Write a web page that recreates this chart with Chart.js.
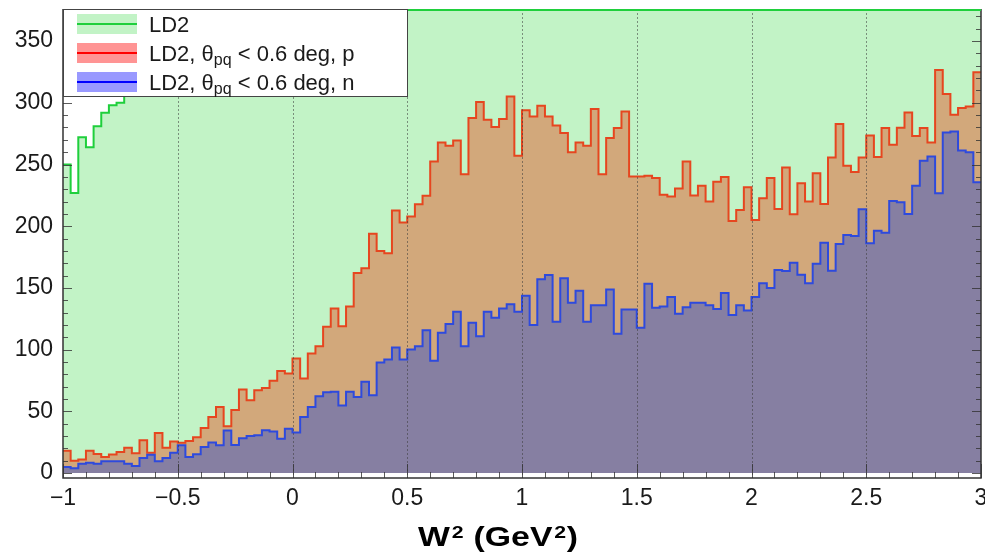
<!DOCTYPE html>
<html>
<head>
<meta charset="utf-8">
<title>W2 distribution, LD2</title>
<script src="https://cdn.jsdelivr.net/npm/chart.js@4.4.1/dist/chart.umd.min.js"></script>
<style>
  html, body { margin: 0; padding: 0; background: #fff; }
  #wrap { position: relative; width: 985px; height: 556px; }
</style>
</head>
<body>
<div id="wrap"><canvas id="w2Chart"></canvas></div>
<script>
// Binning of the W^2 axis (GeV^2)
const xMin = -1;
const xMax = 3;
const xMajorStep = 0.5;

// Visible y range of the frame and its labelled values
const yMin = -4;
const yMax = 376;
const yMajorStep = 50;
const yTickValues = [0, 50, 100, 150, 200, 250, 300, 350];

// Bin contents, 120 bins from -1 to 3
// LD2 total: only the first bins are below the top of the frame
const ld2Counts = [
  250, 227, 272, 264, 281, 292, 298, 300, 318, 336,
  349, 361, 377, 392, 404, 419, 433, 445, 458, 474,
  486, 497, 512, 526, 537, 549, 563, 574, 586, 598,
  611, 623, 634, 642, 655, 664, 673, 685, 691, 702,
  709, 718, 724, 731, 737, 741, 748, 752, 757, 761,
  763, 768, 770, 771, 774, 776, 775, 778, 777, 779,
  778, 776, 777, 775, 772, 773, 770, 768, 767, 765,
  762, 761, 760, 758, 757, 755, 756, 754, 753, 755,
  754, 756, 757, 759, 760, 763, 765, 768, 771, 774,
  778, 781, 785, 790, 794, 799, 803, 809, 814, 819,
  825, 831, 838, 843, 850, 856, 863, 869, 877, 884,
  890, 897, 905, 911, 918, 926, 933, 940, 948, 955
];

// LD2, theta_pq < 0.6 deg, proton
const protonCounts = [
  18, 10, 11, 18, 15.5, 13, 15, 17, 20.5, 16,
  26.5, 16.5, 32.5, 20.5, 25.5, 24.5, 26, 29, 36.5, 45.5,
  53.6, 38, 51, 67.8, 59, 67, 69, 74.7, 82.6, 80.7,
  92.8, 76.6, 96.9, 102.8, 118.5, 133.4, 119, 135, 162, 166,
  194, 180, 178, 212.7, 203, 207.8, 217.9, 224.6, 252.4, 267.9,
  265.2, 269.5, 242.2, 287.6, 300.6, 286.3, 280.4, 286.8, 305.2, 257,
  294, 289, 297.6, 289, 281.7, 275.5, 260, 267.9, 265.2, 295,
  242.2, 271.4, 279.5, 293, 240.3, 240.3, 240.8, 239, 225.4, 224,
  230.5, 252.4, 224.8, 232.7, 220, 236, 239.8, 204.3, 213.2, 231.6,
  205.1, 222.7, 239, 214, 247.6, 209.7, 234.9, 220, 243, 218,
  255.7, 282.8, 248.9, 244, 255.7, 273.5, 256, 279.5, 266, 279.8,
  292.2, 273, 279.5, 267.9, 326.6, 307.1, 290.3, 295.8, 297.1, 324.7
];

// LD2, theta_pq < 0.6 deg, neutron
const neutronCounts = [
  5, 4, 7.6, 8.4, 7.6, 9.5, 9.5, 9.5, 7.6, 5.7,
  12.2, 14.9, 9.5, 12.2, 16.5, 22.5, 13, 15.2, 21.1, 24.7,
  22.5, 34.4, 22.8, 28.2, 30, 30.6, 34.7, 33.7, 27.9, 36,
  32.8, 45.5, 53.6, 62.3, 65.5, 65.8, 54.7, 65.8, 61.7, 73.9,
  63, 89.6, 92, 101.8, 92, 100.2, 102.8, 115.8, 90.9, 113.6,
  120.7, 130.7, 102.8, 121.8, 110.9, 130.7, 125.8, 133.4, 136.7, 130.7,
  143.6, 119.9, 157, 160.5, 122.6, 157.8, 138, 147.7, 122.6, 135.9,
  135.9, 148.8, 112.8, 132.6, 132.6, 117.7, 153.4, 133.9, 135, 142.7,
  129.1, 134.3, 138, 138, 135.9, 132.9, 145.8, 128, 135.9, 131.8,
  142.6, 153.7, 149.9, 164.5, 163.7, 170.5, 160.7, 153.7, 169.6, 186.7,
  164, 185.6, 192.9, 192.1, 213.8, 186.2, 196.4, 194.8, 220.5, 219.5,
  210, 232.7, 253, 256.5, 226.8, 276, 276.8, 261.4, 260, 235.7
];

// Legend texts: main part, subscript, tail
const legendMain = ['LD2', 'LD2, \u03b8', 'LD2, \u03b8'];
const legendSub = ['', 'pq', 'pq'];
const legendTail = ['', ' < 0.6 deg, p', ' < 0.6 deg, n'];

// Colours
const ld2Line = '#1fcf3c';
const ld2Fill = '#c2f3c6';
const protonLine = '#e6461f';
const protonFill = '#d2a87b';
const neutronLine = '#2e4add';
const neutronFill = '#867fa2';

const FONT = "'Liberation Sans', Arial, Helvetica, sans-serif";
Chart.defaults.font.family = FONT;
Chart.defaults.color = '#1a1a1a';

/**
 * Turns bin contents into the corner points of a step outline
 */
function histPoints(counts) {
  const w = (xMax - xMin) / counts.length;
  const pts = [];
  counts.forEach((c, i) => {
    const lo = xMin + i * w;
    pts.push({ x: lo, y: c }, { x: lo + w, y: c });
  });
  return pts;
}

// ROOT style frame: inner ticks, x grid, legend box and axis title
const rootFrame = {
  id: 'rootFrame',
  afterDatasetsDraw(chart) {
    const { ctx, chartArea: a, scales: { x, y } } = chart;
    ctx.save();

    // vertical grid at the labelled x values
    ctx.strokeStyle = 'rgba(60, 60, 60, 0.55)';
    ctx.lineWidth = 1;
    ctx.setLineDash([2, 2]);
    const nMajor = Math.round((xMax - xMin) / xMajorStep);
    for (let k = 1; k < nMajor; k++) {
      const px = Math.round(x.getPixelForValue(xMin + k * xMajorStep)) + 0.5;
      ctx.beginPath();
      ctx.moveTo(px, a.top);
      ctx.lineTo(px, a.bottom);
      ctx.stroke();
    }
    ctx.setLineDash([]);

    // x ticks (major every 0.5, minor every 0.1)
    ctx.strokeStyle = 'rgba(50, 50, 50, 0.8)';
    const nMinor = Math.round((xMax - xMin) / 0.1);
    for (let k = 0; k <= nMinor; k++) {
      const px = Math.round(x.getPixelForValue(xMin + k * 0.1)) + 0.5;
      const len = k % 5 === 0 ? 14 : 6;
      ctx.beginPath();
      ctx.moveTo(px, a.bottom);
      ctx.lineTo(px, a.bottom - len);
      ctx.stroke();
    }

    // y ticks on both sides (major every 50, minor every 10)
    for (let v = 0; v <= yMax; v += 10) {
      const py = Math.round(y.getPixelForValue(v)) + 0.5;
      const len = v % yMajorStep === 0 ? 9 : 5;
      ctx.beginPath();
      ctx.moveTo(a.left, py);
      ctx.lineTo(a.left + len, py);
      ctx.moveTo(a.right, py);
      ctx.lineTo(a.right - len, py);
      ctx.stroke();
    }

    // frame
    ctx.strokeStyle = '#333';
    ctx.lineWidth = 1.5;
    ctx.beginPath();
    ctx.moveTo(a.left, a.top);
    ctx.lineTo(a.left, a.bottom);
    ctx.lineTo(a.right, a.bottom);
    ctx.lineTo(a.right, a.top);
    ctx.stroke();
    // LD2 runs over the top of the frame
    ctx.strokeStyle = ld2Line;
    ctx.lineWidth = 2;
    ctx.beginPath();
    ctx.moveTo(a.left, a.top + 1);
    ctx.lineTo(a.right, a.top + 1);
    ctx.stroke();

    ctx.restore();
  },
  afterDraw(chart) {
    const { ctx, chartArea: a } = chart;
    ctx.save();

    // legend box
    const box = { x: a.left + 0.5, y: a.top + 0.5, w: 344, h: 87 };
    ctx.fillStyle = '#fff';
    ctx.fillRect(box.x, box.y, box.w, box.h);
    ctx.strokeStyle = '#444';
    ctx.lineWidth = 1;
    ctx.strokeRect(box.x, box.y, box.w, box.h);

    const swFill = [ld2Fill, 'rgba(255, 0, 0, 0.42)', 'rgba(0, 0, 255, 0.4)'];
    const swLine = [ld2Line, '#ff0000', '#0000ff'];
    const rowY = [24, 53, 82];
    legendMain.forEach((txt, i) => {
      const cy = rowY[i];
      ctx.fillStyle = swFill[i];
      ctx.fillRect(77, cy - 10, 60, 20);
      ctx.strokeStyle = swLine[i];
      ctx.lineWidth = 2;
      ctx.beginPath();
      ctx.moveTo(77, cy);
      ctx.lineTo(137, cy);
      ctx.stroke();

      const base = cy + 7.5;
      let tx = 149;
      ctx.fillStyle = '#1a1a1a';
      ctx.textBaseline = 'alphabetic';
      ctx.textAlign = 'left';
      ctx.font = '22px ' + FONT;
      ctx.fillText(txt, tx, base);
      tx += ctx.measureText(txt).width;
      if (legendSub[i]) {
        ctx.font = '16px ' + FONT;
        ctx.fillText(legendSub[i], tx, base + 4);
        tx += ctx.measureText(legendSub[i]).width;
        ctx.font = '22px ' + FONT;
        ctx.fillText(legendTail[i], tx, base);
      }
    });

    // x axis title W^2 (GeV^2)
    const parts = [
      { t: 'W', sup: false }, { t: '2', sup: true },
      { t: ' (GeV', sup: false }, { t: '2', sup: true }, { t: ')', sup: false }
    ];
    const bigFont = 'bold 27px ' + FONT;
    const supFont = 'bold 17px ' + FONT;
    let total = 0;
    parts.forEach(p => {
      ctx.font = p.sup ? supFont : bigFont;
      p.w = ctx.measureText(p.t).width + (p.sup ? 2 : 0);
      total += p.w;
    });
    const targetW = 160;
    const sx = targetW / total;
    ctx.translate(498 - targetW / 2, 546);
    ctx.scale(sx, 1);
    ctx.fillStyle = '#000';
    let cx = 0;
    parts.forEach(p => {
      ctx.font = p.sup ? supFont : bigFont;
      ctx.fillText(p.t, cx + (p.sup ? 1.5 : 0), p.sup ? -8.5 : 0);
      cx += p.w;
    });

    ctx.restore();
  }
};

const ctx = document.getElementById('w2Chart').getContext('2d');

const w2Chart = new Chart(ctx, {
  type: 'line',
  data: {
    datasets: [
      {
        label: 'LD2',
        data: histPoints(ld2Counts),
        borderColor: ld2Line,
        backgroundColor: ld2Fill,
        fill: 'origin',
        order: 3
      },
      {
        label: 'LD2, theta_pq < 0.6 deg, p',
        data: histPoints(protonCounts),
        borderColor: protonLine,
        backgroundColor: protonFill,
        fill: 'origin',
        order: 2
      },
      {
        label: 'LD2, theta_pq < 0.6 deg, n',
        data: histPoints(neutronCounts),
        borderColor: neutronLine,
        backgroundColor: neutronFill,
        fill: 'origin',
        order: 1
      }
    ]
  },
  options: {
    responsive: true,
    maintainAspectRatio: false,
    animation: false,
    devicePixelRatio: 1,
    elements: {
      line: { borderWidth: 2, tension: 0, borderJoinStyle: 'miter' },
      point: { radius: 0, hoverRadius: 0 }
    },
    layout: { padding: { top: 9, right: 4, left: 0, bottom: 0 } },
    plugins: {
      legend: { display: false },
      tooltip: { enabled: false }
    },
    scales: {
      x: {
        type: 'linear',
        bounds: 'data',
        min: xMin,
        max: xMax,
        grid: { display: false, drawTicks: false },
        border: { display: false },
        ticks: {
          stepSize: xMajorStep,
          includeBounds: false,
          autoSkip: false,
          maxRotation: 0,
          padding: 7,
          color: '#1a1a1a',
          font: { size: 23 },
          callback: function(value) {
            return String(value).replace('-', '\u2212');
          }
        },
        afterFit: function(scale) {
          scale.height = 78;
          scale.paddingLeft = 0;
          scale.paddingRight = 0;
        }
      },
      y: {
        type: 'linear',
        bounds: 'data',
        min: yMin,
        max: yMax,
        grid: { display: false, drawTicks: false },
        border: { display: false },
        ticks: {
          padding: 10,
          color: '#1a1a1a',
          font: { size: 23 }
        },
        afterBuildTicks: function(scale) {
          scale.ticks = yTickValues.map(v => ({ value: v }));
        },
        afterFit: function(scale) {
          scale.width = 63;
          scale.paddingTop = 0;
          scale.paddingBottom = 0;
        }
      }
    }
  },
  plugins: [rootFrame]
});
</script>
</body>
</html>
